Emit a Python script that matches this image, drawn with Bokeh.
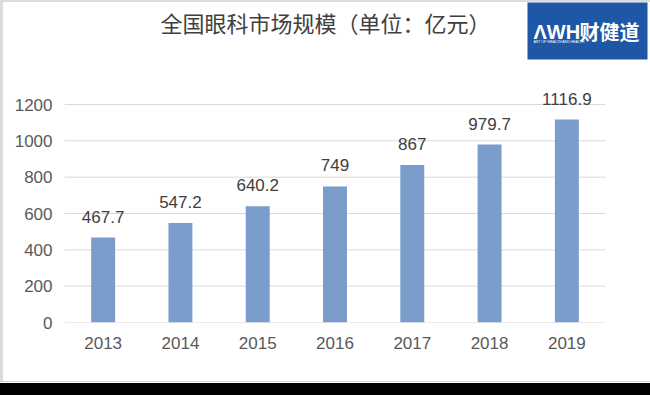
from bokeh.plotting import figure
from bokeh.layouts import column, row
from bokeh.models import ColumnDataSource, Range1d, FixedTicker, LabelSet, Label, BoxAnnotation, Div
from bokeh.core.properties import value
from bokeh.embed import file_html
from bokeh.resources import INLINE

years = ["2013", "2014", "2015", "2016", "2017", "2018", "2019"]
values = [467.7, 547.2, 640.2, 749, 867, 979.7, 1116.9]
value_labels = ["467.7", "547.2", "640.2", "749", "867", "979.7", "1116.9"]
y_ticks = [0, 200, 400, 600, 800, 1000, 1200]
title_text = "全国眼科市场规模（单位：亿元）"
logo_mark = "ΛWH"
logo_cn = "财健道"
logo_sub = "ART OF WEALTH AND HEALTH"

# page layout (pixels)
PAGE_W = 650
TOP_B, LEFT_B = 2, 3
W, H = PAGE_W - LEFT_B, 379
FL, FR, FB, FT = 64, 605, 322, 104   # page pixel positions of plot edges / 0 and top tick
n = len(years)
xs = list(range(n))
unit_x = (FR - FL) / n
x_end = (n - 0.5) + (PAGE_W - FR) / unit_x
y_end = y_ticks[-1] * (FB - TOP_B) / (FB - FT)
unit_y = (FB - TOP_B) / y_end

def px_x(px):
    return (px - FL) / unit_x - 0.5

def px_y(py):
    return (FB - py) / unit_y

src = ColumnDataSource(dict(x=xs, top=values, lab=value_labels))
grid_src = ColumnDataSource(dict(x0=[-0.5] * len(y_ticks), x1=[n - 0.5] * len(y_ticks),
                                 y=y_ticks))

p = figure(width=W, height=H, x_range=Range1d(-0.5, x_end), y_range=Range1d(0, y_end),
           output_backend="svg", toolbar_location=None, title=None,
           min_border_left=FL - LEFT_B, min_border_right=0, min_border_top=0,
           min_border_bottom=H - (FB - TOP_B))
p.outline_line_color = None
p.background_fill_color = "white"
p.border_fill_color = "white"
p.xgrid.grid_line_color = None
p.ygrid.grid_line_color = None

p.segment(x0="x0", x1="x1", y0="y", y1="y", source=grid_src, line_color="#d9d9d9", line_width=1)
p.vbar(x="x", top="top", width=0.31, source=src, fill_color="#7b9dcb", line_color=None)

for ax in (p.xaxis, p.yaxis):
    ax.axis_line_color = None
    ax.major_tick_line_color = None
    ax.minor_tick_line_color = None
    ax.major_tick_out = 0
    ax.major_tick_in = 0
    ax.major_label_text_font = "Liberation Sans"
    ax.major_label_text_font_size = "17px"
    ax.major_label_text_color = "#595959"

p.yaxis.ticker = FixedTicker(ticks=y_ticks)
p.yaxis.major_label_standoff = 12
p.xaxis.ticker = FixedTicker(ticks=xs)
p.xaxis.major_label_overrides = {i: y for i, y in zip(xs, years)}
p.xaxis.major_label_standoff = 14

labels = LabelSet(x="x", y="top", text="lab", source=src, y_offset=15, text_align="center",
                  text_baseline="alphabetic", text_font=value("Liberation Sans"),
                  text_font_size=value("17px"), text_color=value("#404040"))
p.add_layout(labels)

p.add_layout(Label(x=px_x(325), y=px_y(21), text=title_text,
                   text_align="center", text_baseline="middle", text_font="Noto Sans CJK SC",
                   text_font_size="22px", text_color="#404040"))

p.add_layout(BoxAnnotation(left=px_x(527), right=px_x(647), top=px_y(0), bottom=px_y(59),
                           fill_color="#1d57a5", fill_alpha=1.0, line_color=None))
p.add_layout(Label(x=px_x(533), y=px_y(31), text=logo_mark,
                   text_align="left", text_baseline="middle", text_font="Liberation Sans",
                   text_font_size="20px", text_font_style="bold", text_color="white"))
p.add_layout(Label(x=px_x(579), y=px_y(31), text=logo_cn,
                   text_align="left", text_baseline="middle", text_font="Noto Sans CJK SC",
                   text_font_size="20px", text_font_style="bold", text_color="white"))
p.add_layout(Label(x=px_x(533), y=px_y(41), text=logo_sub,
                   text_align="left", text_baseline="middle", text_font="Liberation Sans",
                   text_font_size="3.5px", text_color="white"))

def bar_div(w, h, color):
    return Div(text="", width=w, height=h, margin=0,
               styles={"background-color": color})

top_line = bar_div(PAGE_W, TOP_B, "#dcdcdc")
left_line = bar_div(LEFT_B, H, "#dcdcdc")
gray_line = bar_div(PAGE_W, 1, "#cfcfcf")
white_line = bar_div(PAGE_W, 1, "#ffffff")
black_strip = bar_div(PAGE_W, 12, "#000000")

layout = column(top_line, row(left_line, p, spacing=0), gray_line, white_line, black_strip,
                spacing=0)
open("out.html", "w").write(file_html(layout, INLINE))
